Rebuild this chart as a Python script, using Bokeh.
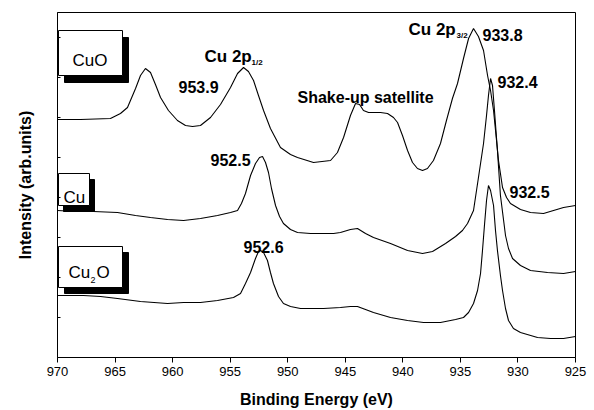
from bokeh.plotting import figure
from bokeh.models import Range1d, Label, FixedTicker
from bokeh.embed import file_html
from bokeh.resources import INLINE

# ---------------- data (binding energy in eV, intensity in arb. units) ----------------
cuo_energy = [970.00, 968.00, 965.40, 964.53, 963.92, 963.22, 962.79, 962.36, 961.92, 961.49,
              961.05, 960.36, 959.58, 958.88, 958.27, 957.58, 956.71, 955.84, 954.97, 954.36,
              953.84, 953.41, 952.97, 952.54, 952.10, 951.50, 950.63, 949.76, 949.15, 947.76,
              946.28, 945.68, 945.15, 944.55, 944.11, 943.76, 943.42, 942.98, 942.55, 941.94,
              941.33, 940.81, 940.46, 940.03, 939.59, 939.16, 938.73, 938.29, 937.86, 937.34,
              936.73, 936.21, 935.69, 935.25, 934.73, 934.29, 933.86, 933.43, 932.99, 932.64,
              932.38, 932.12, 931.86, 931.69, 931.34, 930.99, 930.65, 929.78, 928.91, 927.78,
              926.91, 926.04, 925.00]
cuo_intensity = [238, 238, 239, 244, 250, 269, 282, 289, 285, 273,
                 260, 247, 237, 232, 231, 232, 240, 253, 270, 284,
                 290, 286, 277, 262, 247, 229, 210, 203, 200, 195,
                 197, 205, 220, 242, 254, 253, 247, 245, 245, 245,
                 244, 240, 235, 222, 207, 195, 189, 187, 189, 197,
                 214, 237, 259, 274, 299, 319, 329, 321, 307, 282,
                 267, 247, 217, 197, 170, 160, 154, 148, 145, 144,
                 147, 150, 152]

cu_energy = [970.00, 968.44, 966.87, 964.79, 963.22, 961.92, 960.44, 959.05, 957.58, 956.10,
             954.97, 954.36, 954.02, 953.67, 953.23, 952.80, 952.45, 952.19, 951.93, 951.67,
             951.41, 951.06, 950.71, 950.37, 949.76, 949.15, 948.02, 946.89, 946.02, 945.42,
             944.55, 943.94, 943.24, 942.55, 941.07, 939.59, 938.29, 937.42, 936.29, 935.42,
             934.82, 934.38, 933.86, 933.43, 932.99, 932.73, 932.56, 932.38, 932.21, 932.04,
             931.78, 931.52, 931.08, 930.82, 930.47, 929.78, 928.91, 927.43, 926.04, 925.00]
cu_intensity = [147, 146, 146, 145, 142, 140, 138, 137, 139, 142,
                145, 147, 154, 164, 182, 194, 200, 201, 195, 185,
                169, 152, 141, 134, 128, 125, 124, 124, 124, 125,
                128, 129, 124, 120, 114, 107, 104, 106, 114, 121,
                127, 134, 147, 180, 214, 242, 262, 279, 272, 247,
                207, 162, 122, 109, 99, 92, 87, 85, 84, 86]

cu2o_energy = [970.00, 967.74, 966.26, 964.79, 962.79, 960.44, 959.05, 957.58, 956.10, 954.71,
               954.10, 953.67, 953.23, 952.80, 952.54, 952.36, 952.10, 951.76, 951.50, 951.24,
               950.80, 950.37, 949.76, 948.89, 946.89, 945.42, 944.55, 943.94, 943.24, 942.55,
               941.07, 939.59, 938.20, 936.73, 935.42, 934.73, 934.29, 933.86, 933.51, 933.25,
               933.08, 932.91, 932.73, 932.56, 932.38, 932.12, 931.95, 931.78, 931.52, 931.34,
               931.08, 930.82, 930.39, 929.78, 928.30, 927.17, 926.04, 925.00]
cu2o_intensity = [62, 62, 61, 59, 56, 54, 55, 55, 57, 60,
                  64, 74, 85, 99, 106, 107, 105, 97, 85, 74,
                  61, 54, 51, 49, 49, 50, 51, 51, 48, 45,
                  40, 37, 35, 35, 38, 40, 45, 54, 67, 84,
                  107, 132, 157, 172, 167, 152, 127, 107, 82, 67,
                  49, 37, 29, 25, 20, 19, 19, 21]

x_ticks = [970, 965, 960, 955, 950, 945, 940, 935, 930, 925]
y_ticks = [40, 80, 120, 160, 200, 240, 280, 320]

# ---------------- figure ----------------
FONT = "Liberation Sans"
p = figure(width=594, height=410, output_backend="svg", toolbar_location=None,
           x_range=Range1d(970, 925), y_range=Range1d(0, 345),
           min_border_left=57, min_border_right=19, min_border_top=12, min_border_bottom=53)
p.background_fill_color = "white"
p.border_fill_color = "white"
p.outline_line_color = "black"
p.outline_line_width = 1
p.xgrid.visible = False
p.ygrid.visible = False

xa = p.xaxis[0]
xa.ticker = FixedTicker(ticks=x_ticks)
xa.axis_label = "Binding Energy (eV)"
xa.axis_label_text_font = FONT
xa.axis_label_text_font_style = "bold"
xa.axis_label_text_font_size = "16px"
xa.axis_label_text_color = "black"
xa.axis_label_standoff = 12
xa.major_label_text_font = FONT
xa.major_label_text_font_size = "13px"
xa.major_label_text_color = "black"
xa.major_label_standoff = 4
xa.major_tick_in = 0
xa.major_tick_out = 5
xa.minor_tick_in = 0
xa.minor_tick_out = 0
xa.axis_line_color = "black"
xa.major_tick_line_color = "black"

ya = p.yaxis[0]
ya.ticker = FixedTicker(ticks=y_ticks)
ya.major_label_overrides = {t: "" for t in y_ticks}
ya.axis_label = "Intensity (arb.units)"
ya.axis_label_text_font = FONT
ya.axis_label_text_font_style = "bold"
ya.axis_label_text_font_size = "16px"
ya.axis_label_text_color = "black"
ya.axis_label_standoff = 24
ya.major_label_standoff = 0
ya.major_tick_in = 3
ya.major_tick_out = 0
ya.minor_tick_in = 0
ya.minor_tick_out = 0
ya.axis_line_color = "black"

# ---------------- spectra ----------------
p.line(cuo_energy, cuo_intensity, line_color="black", line_width=1.1)
p.line(cu_energy, cu_intensity, line_color="black", line_width=1.1)
p.line(cu2o_energy, cu2o_intensity, line_color="black", line_width=1.1)

# helpers converting picture pixels to data coordinates for annotation placement
def dx(px):
    return 970 - (px - 57) / 11.511

def dy(py):
    return 357 - py

# ---------------- sample boxes with drop shadows ----------------
boxes = [((58, 30, 122, 75), (6, 7)), ((58, 173, 89, 205), (5, 6)), ((58, 246, 122, 287), (6, 6))]
for (l, t, r, b), (ox, oy) in boxes:
    p.quad(left=[dx(l + ox)], right=[dx(r + ox)], top=[dy(t + oy)], bottom=[dy(b + oy)],
           fill_color="black", line_color="black")
    p.quad(left=[dx(l)], right=[dx(r)], top=[dy(t)], bottom=[dy(b)],
           fill_color="white", line_color="black", line_width=1)

def lab(px, py, text, size, bold=True, align="left"):
    p.add_layout(Label(x=dx(px), y=dy(py), text=text, text_font=FONT,
                       text_font_size=size, text_font_style="bold" if bold else "normal",
                       text_color="black", text_align=align, text_baseline="alphabetic"))

# box texts
lab(72, 60, "CuO", "17px", bold=False)
lab(63, 197, "Cu", "17px", bold=False)
lab(68, 272, "Cu", "17px", bold=False)
lab(90, 279, "2", "9px", bold=False)
lab(96, 272, "O", "17px", bold=False)

# peak annotations
lab(204, 56, "Cu 2p", "17px")
lab(251, 62, "1/2", "8px")
lab(408, 29, "Cu 2p", "17px")
lab(456, 35, "3/2", "8px")
lab(178, 86, "953.9", "16px")
lab(297, 97, "Shake-up satellite", "16px")
lab(482, 34, "933.8", "16px")
lab(497, 81, "932.4", "16px")
lab(210, 159, "952.5", "16px")
lab(509, 191, "932.5", "16px")
lab(243, 246, "952.6", "16px")

open("out.html", "w").write(file_html(p, INLINE))
